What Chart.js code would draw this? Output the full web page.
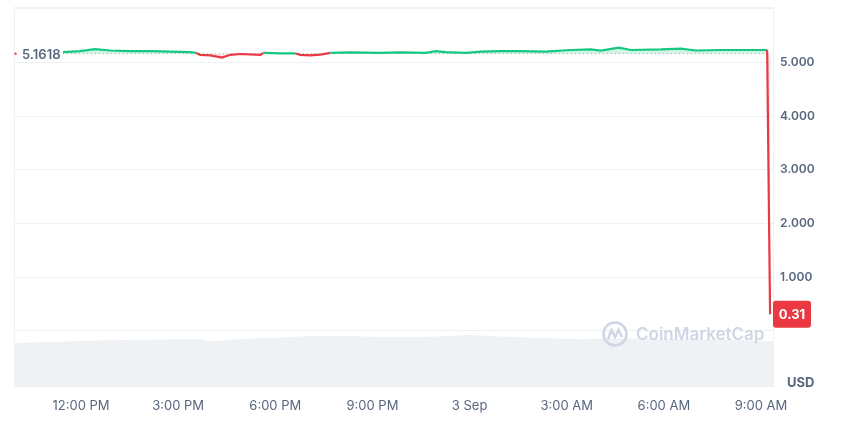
<!DOCTYPE html>
<html>
<head>
<meta charset="utf-8">
<script src="https://cdn.jsdelivr.net/npm/chart.js@4"></script>
<style>
  html, body { margin: 0; padding: 0; background: #ffffff; }
  #wrap { width: 850px; height: 431px; position: relative; }
</style>
</head>
<body>
<div id="wrap"><canvas id="c"></canvas></div>
<script>
// ---- data (hours relative to 12:00 PM, 2 Sep) ----
const priceHours = [-0.56, -0.03, 0.43, 0.9, 1.52, 2.13, 2.75, 3.37, 3.56, 3.68, 3.99, 4.36, 4.61, 4.92, 5.54, 5.63, 6.16, 6.62, 6.78, 7.08, 7.39, 7.70, 8.32, 9.25, 9.87, 10.64, 10.95, 11.26, 11.88, 12.35, 12.96, 13.58, 14.35, 15.13, 15.74, 16.05, 16.61, 16.98, 17.91, 18.53, 18.99, 19.76, 20.54, 21.19, 21.28];
const prices = [5.19, 5.21, 5.245, 5.22, 5.21, 5.21, 5.20, 5.19, 5.175, 5.14, 5.13, 5.09, 5.14, 5.155, 5.14, 5.175, 5.165, 5.165, 5.14, 5.13, 5.145, 5.175, 5.185, 5.175, 5.185, 5.175, 5.21, 5.19, 5.175, 5.20, 5.21, 5.21, 5.20, 5.23, 5.24, 5.22, 5.275, 5.23, 5.24, 5.255, 5.22, 5.23, 5.23, 5.23, 0.31];
const refPrice = 5.1618;

const volHours = [-2.07, -0.96, -0.03, 1.21, 2.44, 3.68, 4.08, 4.92, 6.16, 7.08, 8.32, 9.25, 10.49, 12.03, 12.96, 14.20, 15.43, 16.67, 17.91, 19.15, 20.38, 21.00, 21.37];
const volumes = [2.20, 2.25, 2.30, 2.35, 2.38, 2.40, 2.28, 2.40, 2.48, 2.55, 2.55, 2.50, 2.50, 2.60, 2.53, 2.45, 2.40, 2.43, 2.40, 2.38, 2.35, 2.30, 2.30];

const xTickHours = [0, 3, 6, 9, 12, 15, 18, 21];
const xTickLabels = ['12:00 PM', '3:00 PM', '6:00 PM', '9:00 PM', '3 Sep', '3:00 AM', '6:00 AM', '9:00 AM'];
const yTickValues = [0, 1, 2, 3, 4, 5, 6];
const yTickLabels = ['', '1.000', '2.000', '3.000', '4.000', '5.000', ''];
const currency = 'USD';
const brand = 'CoinMarketCap';

const GREEN = '#16c784', RED = '#ea3943', TXT = '#58667e', GRID = '#eff2f5';

const pricePts = priceHours.map((h, i) => ({ x: h, y: prices[i] }));
const volPts = volHours.map((h, i) => ({ x: h, y: volumes[i] }));
const refPts = [{ x: priceHours[0], y: refPrice }, { x: priceHours[priceHours.length - 2], y: refPrice }];

const overlay = {
  id: 'overlay',
  afterDraw(chart) {
    const c = chart.ctx, a = chart.chartArea, ys = chart.scales.y;
    c.save();
    // frame
    c.strokeStyle = GRID; c.lineWidth = 1;
    c.beginPath();
    c.moveTo(a.left + 0.5, a.top); c.lineTo(a.left + 0.5, a.bottom);
    c.moveTo(a.left, a.top + 0.5); c.lineTo(a.right, a.top + 0.5);
    c.stroke();
    // reference label
    const ry = ys.getPixelForValue(refPrice);
    c.fillStyle = RED;
    c.beginPath(); c.arc(a.left + 1.5, ry, 1.2, 0, Math.PI * 2); c.fill();
    c.fillStyle = TXT;
    c.font = '600 13px Inter';
    c.textBaseline = 'middle'; c.textAlign = 'left';
    c.fillText(refPrice.toFixed(4), a.left + 8, ry + 1);
    // last price tag
    const last = prices[prices.length - 1];
    const ly = ys.getPixelForValue(last);
    const bx = a.right, bw = 38, bh = 27;
    c.fillStyle = RED;
    c.beginPath();
    c.roundRect(bx, ly - bh / 2, bw, bh, 3);
    c.fill();
    c.fillStyle = '#ffffff';
    c.font = '700 13px Inter';
    c.textAlign = 'center';
    c.fillText(last.toFixed(2), bx + bw / 2, ly + 1);
    // currency
    c.fillStyle = TXT;
    c.font = '700 13px Inter';
    c.textAlign = 'left';
    c.fillText(currency, a.right + 14, a.bottom - 4);
    // watermark
    const wx = 615, wy = 334;
    c.strokeStyle = '#cfd6e4'; c.lineWidth = 2.6;
    c.beginPath(); c.arc(wx, wy, 11.5, 0, Math.PI * 2); c.stroke();
    c.beginPath();
    c.moveTo(wx - 7, wy + 5);
    c.lineTo(wx - 3.5, wy - 4);
    c.lineTo(wx, wy + 3);
    c.lineTo(wx + 3.5, wy - 4);
    c.lineTo(wx + 7, wy + 3);
    c.stroke();
    c.fillStyle = '#cfd6e4';
    c.font = '600 17px Inter';
    c.textAlign = 'left';
    c.fillText(brand, wx + 21, wy + 1);
    c.restore();
  }
};

new Chart(document.getElementById('c'), {
  type: 'line',
  data: {
    datasets: [
      {
        label: 'Price',
        data: pricePts,
        yAxisID: 'y',
        borderWidth: 2.2,
        pointRadius: 0,
        tension: 0,
        order: 1,
        borderColor: GREEN,
        segment: {
          borderColor: ctx => ((ctx.p0.parsed.y + ctx.p1.parsed.y) / 2 >= refPrice ? GREEN : RED)
        },
        fill: { value: refPrice, above: 'rgba(22,199,132,0.2)', below: 'rgba(234,57,67,0.15)' }
      },
      {
        label: 'Ref',
        data: refPts,
        yAxisID: 'y',
        borderColor: '#a6b0c3',
        borderWidth: 1,
        borderDash: [1, 3],
        pointRadius: 0,
        fill: false,
        order: 2
      },
      {
        label: 'Volume',
        data: volPts,
        yAxisID: 'yVol',
        borderWidth: 0,
        borderColor: 'rgba(0,0,0,0)',
        backgroundColor: '#eff2f5',
        pointRadius: 0,
        fill: 'origin',
        order: 3
      }
    ]
  },
  options: {
    responsive: true,
    maintainAspectRatio: false,
    animation: false,
    layout: { padding: { left: 14, top: 7, right: 0, bottom: 0 } },
    plugins: { legend: { display: false }, tooltip: { enabled: false } },
    scales: {
      x: {
        type: 'linear',
        min: -2.07,
        max: 21.37,
        afterBuildTicks: s => { s.ticks = xTickHours.map(v => ({ value: v })); },
        afterFit: s => { s.height = 44; s.paddingLeft = 0; s.paddingRight = 0; },
        grid: { display: false, drawTicks: false },
        border: { display: false },
        ticks: {
          padding: 11,
          maxRotation: 0,
          autoSkip: false,
          color: TXT,
          font: { family: 'Inter', size: 13 },
          callback: v => { const i = xTickHours.indexOf(v); return i >= 0 ? xTickLabels[i] : ''; }
        }
      },
      y: {
        position: 'right',
        min: -1.043,
        max: 6.03,
        afterBuildTicks: s => { s.ticks = yTickValues.map(v => ({ value: v })); },
        afterFit: s => { s.width = 77; s.paddingTop = 0; s.paddingBottom = 0; },
        grid: { color: GRID, drawTicks: false },
        border: { display: true, color: GRID },
        ticks: {
          padding: 7,
          color: TXT,
          font: { family: 'Inter', size: 12, weight: '600' },
          callback: v => { const i = yTickValues.indexOf(v); return i >= 0 ? yTickLabels[i] : ''; }
        }
      },
      yVol: {
        display: false,
        min: 0,
        max: 19
      }
    }
  },
  plugins: [overlay]
});
</script>
</body>
</html>
